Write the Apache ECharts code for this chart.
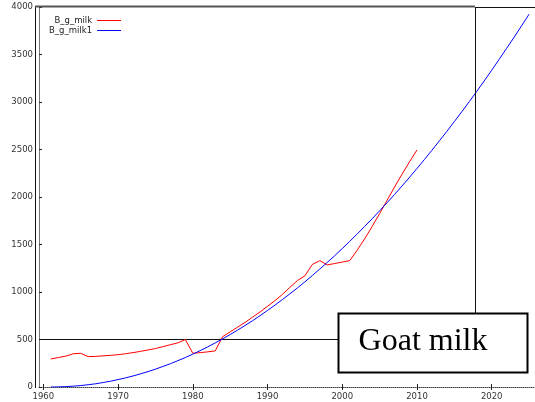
<!DOCTYPE html>
<html>
<head>
<meta charset="utf-8">
<script src="https://cdn.jsdelivr.net/npm/echarts@6/dist/echarts.min.js"></script>
<style>
html,body{margin:0;padding:0;background:#fff;}
#chart{width:535px;height:402px;}
</style>
</head>
<body>
<div id="chart"></div>
<script>
// Observed series B_g_milk (1961-2010)
const milkYears = [1961,1962,1963,1964,1965,1966,1967,1968,1969,1970,
  1971,1972,1973,1974,1975,1976,1977,1978,1979,1980,
  1981,1982,1983,1984,1985,1986,1987,1988,1989,1990,
  1991,1992,1993,1994,1995,1996,1997,1998,1999,2000,
  2001,2002,2003,2004,2005,2006,2007,2008,2009,2010];
const milkValues = [295,310,325,350,355,320,322,328,333,340,
  350,362,375,390,405,425,445,465,500,355,
  362,370,380,530,580,630,680,735,790,850,
  910,975,1050,1120,1170,1290,1330,1285,1300,1315,
  1330,1440,1560,1690,1825,1965,2105,2240,2370,2495];
// Fitted series B_g_milk1 (1961-2025)
const fitYears = [1961,1962,1963,1964,1965,1966,1967,1968,1969,1970,
  1971,1972,1973,1974,1975,1976,1977,1978,1979,1980,
  1981,1982,1983,1984,1985,1986,1987,1988,1989,1990,
  1991,1992,1993,1994,1995,1996,1997,1998,1999,2000,
  2001,2002,2003,2004,2005,2006,2007,2008,2009,2010,
  2011,2012,2013,2014,2015,2016,2017,2018,2019,2020,
  2021,2022,2023,2024,2025];
const fitValues = [0,1,4,9,15,24,34,47,61,78,
  96,116,138,162,188,216,245,277,310,346,
  383,423,464,507,552,599,648,698,751,806,
  862,921,981,1043,1107,1174,1242,1312,1383,1457,
  1533,1611,1690,1771,1855,1940,2027,2116,2207,2300,
  2395,2492,2591,2691,2794,2898,3004,3112,3222,3335,
  3449,3565,3682,3802,3924];
const xTicks = [1960,1970,1980,1990,2000,2010,2020];
const seriesNames = ['B_g_milk','B_g_milk1'];
const boxLabel = 'Goat milk';

const chart = echarts.init(document.getElementById('chart'));
const pair = (xs, ys) => xs.map((x, i) => [x, ys[i]]);
const sans = 'DejaVu Sans';
const plain = v => String(v);

chart.setOption({
  animation: false,
  backgroundColor: '#fff',
  grid: {left: 39, right: 1, top: 7, bottom: 15, containLabel: false},
  legend: {
    orient: 'vertical', left: 44, top: 11,
    align: 'right', itemGap: 1, itemWidth: 24, itemHeight: 9,
    icon: 'path://M0,4L24,4L24,5L0,5Z',
    textStyle: {fontFamily: sans, fontSize: 8.5, color: '#222', padding: [0, 0, 0, 0]},
    data: seriesNames
  },
  xAxis: [{
    type: 'value', min: 1959.42, max: 2025.66, position: 'bottom',
    axisLine: {show: true, onZero: false, lineStyle: {color: '#444', width: 1, type: [1, 1]}},
    axisTick: {show: true, inside: true, length: 3, lineStyle: {color: '#222'}, customValues: xTicks},
    axisLabel: {fontFamily: sans, fontSize: 8.5, color: '#333', margin: 5, customValues: xTicks, formatter: plain},
    splitLine: {show: false}
  }, {
    type: 'value', min: 1959.42, max: 2025.66, position: 'top',
    axisLine: {show: false},
    axisTick: {show: true, inside: true, length: 3, lineStyle: {color: '#222'}, customValues: xTicks},
    axisLabel: {show: false},
    splitLine: {show: false}
  }],
  yAxis: {
    type: 'value', min: 0, max: 4000, interval: 500,
    axisLine: {show: true, lineStyle: {color: '#777', width: 1}},
    axisTick: {show: true, inside: true, length: 3, lineStyle: {color: '#222'}},
    axisLabel: {fontFamily: sans, fontSize: 8.5, color: '#333', margin: 6, formatter: plain},
    splitLine: {show: false}
  },
  series: [{
    name: seriesNames[0], type: 'line', data: pair(milkYears, milkValues),
    showSymbol: false, symbol: 'none', lineStyle: {color: '#ff0000', width: 1}, itemStyle: {color: '#ff0000'}, z: 3
  }, {
    name: seriesNames[1], type: 'line', data: pair(fitYears, fitValues), smooth: false,
    showSymbol: false, symbol: 'none', lineStyle: {color: '#0000ff', width: 1}, itemStyle: {color: '#0000ff'}, z: 3
  }],
  graphic: [
    {type: 'line', shape: {x1: 35.5, y1: 6, x2: 35.5, y2: 388}, style: {stroke: '#111', lineWidth: 1}, z: 10},
    {type: 'line', shape: {x1: 35, y1: 6.5, x2: 475, y2: 6.5}, style: {stroke: '#555', lineWidth: 2}, z: 10},
    {type: 'line', shape: {x1: 475, y1: 7.5, x2: 535, y2: 7.5}, style: {stroke: '#111', lineWidth: 1}, z: 10},
    {type: 'line', shape: {x1: 475.5, y1: 7, x2: 475.5, y2: 313}, style: {stroke: '#111', lineWidth: 1}, z: 10},
    {type: 'line', shape: {x1: 39, y1: 339.5, x2: 338, y2: 339.5}, style: {stroke: '#111', lineWidth: 1}, z: 1},
    {type: 'rect', shape: {x: 338.5, y: 313.5, width: 189, height: 59}, style: {fill: '#fff', stroke: '#000', lineWidth: 2}, z: 10},
    {type: 'text', x: 423, y: 342, style: {text: boxLabel, font: '32px "Liberation Serif"', fill: '#000', align: 'center', verticalAlign: 'middle'}, z: 11}
  ]
});
</script>
</body>
</html>
